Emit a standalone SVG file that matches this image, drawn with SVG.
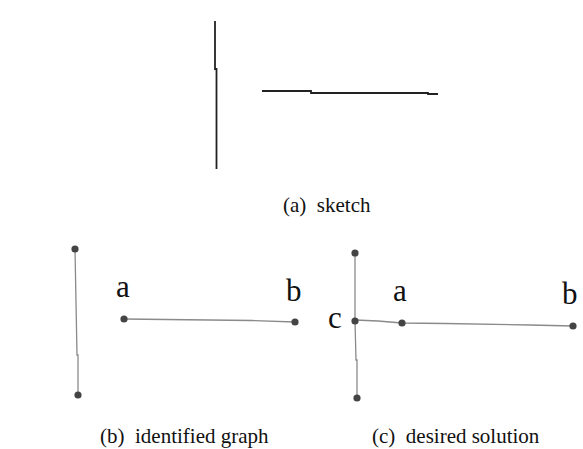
<svg xmlns="http://www.w3.org/2000/svg" width="583" height="449" viewBox="0 0 583 449">
<style>
.sk{fill:none;stroke:#222;stroke-width:1.8}
.e{fill:none;stroke:#8a8a8a;stroke-width:1.3}
.n{fill:#444}
.lbl{font-family:'Liberation Serif',serif;font-size:31px;fill:#111}
.cap{font-family:'Liberation Serif',serif;font-size:21px;fill:#111}
</style>
<rect width="583" height="449" fill="#fff"/>
<g id="sketch">
<polyline class="sk" points="215,21 215,69 216.5,69 216.5,169"/>
<polyline class="sk" points="262,91 311,91 311,93 428,93 428,94 438,94"/>
</g>
<text class="cap" x="283" y="212" xml:space="preserve">(a)  sketch</text>
<g id="connectors">
<polyline class="e" points="75,249 77,355 78,355 78,395"/>
<polyline class="e" points="124,319 166,319.5 252,320.5 295,322"/>
<polyline class="e" points="355,253 355,321 356,360 357,360 357,398"/>
<polyline class="e" points="355,320 378,321 402,323 445,323.5 530,325 573,326"/>
</g>
<g id="b-top"><circle class="n" cx="75" cy="249" r="3.6"/></g>
<g id="b-bottom"><circle class="n" cx="78" cy="395" r="3.6"/></g>
<g id="b-a"><circle class="n" cx="124" cy="319" r="3.6"/><text class="lbl" x="116" y="297">a</text></g>
<g id="b-b"><circle class="n" cx="295" cy="322" r="3.6"/><text class="lbl" x="286" y="301">b</text></g>
<g id="c-top"><circle class="n" cx="355" cy="253" r="3.6"/></g>
<g id="c-c"><circle class="n" cx="355" cy="321" r="3.6"/><text class="lbl" x="328" y="328">c</text></g>
<g id="c-bottom"><circle class="n" cx="357" cy="398" r="3.6"/></g>
<g id="c-a"><circle class="n" cx="402" cy="323" r="3.6"/><text class="lbl" x="393" y="301">a</text></g>
<g id="c-b"><circle class="n" cx="573" cy="326" r="3.6"/><text class="lbl" x="562" y="304">b</text></g>
<text class="cap" x="100" y="443" xml:space="preserve">(b)  identified graph</text>
<text class="cap" x="372" y="443" xml:space="preserve">(c)  desired solution</text>
</svg>
